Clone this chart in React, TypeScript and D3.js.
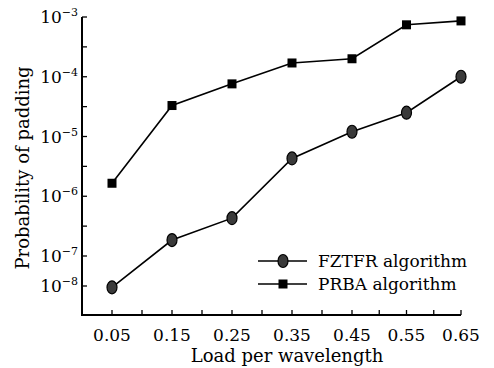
import React, { useEffect, useRef } from "react";
import * as d3 from "d3";

const loads = [0.05, 0.15, 0.25, 0.35, 0.45, 0.55, 0.65];
const fztfr = [9e-9, 1.85e-7, 4.3e-7, 4.3e-6, 1.2e-5, 2.5e-5, 1e-4];
const prba = [1.65e-6, 3.3e-5, 7.6e-5, 1.7e-4, 2e-4, 7.4e-4, 8.6e-4];
const xTicks = [0.05, 0.1, 0.15, 0.2, 0.25, 0.3, 0.35, 0.4, 0.45, 0.5, 0.55, 0.6, 0.65];
const xLabels = ["0.05", "0.15", "0.25", "0.35", "0.45", "0.55", "0.65"];
const yTicks = [-8, -7, -6.5, -6, -5.5, -5, -4.5, -4, -3.5, -3];
const yLabels = [-8, -7, -6, -5, -4, -3];

const FONT = "'DejaVu Serif', serif";

const App = () => {
  const svgRef = useRef<SVGSVGElement>(null);

  useEffect(() => {
    const svg = d3.select(svgRef.current);
    svg.selectAll("*").remove();

    // the original axes are not uniform at the ends, so piecewise scales
    const x = d3.scaleLinear().domain([0, 0.45, 0.65]).range([82, 352, 461]);
    const y = d3.scaleLinear().domain([-8, -7, -3]).range([286, 256, 17]);
    const yv = (v: number) => y(Math.log10(v));
    const x0 = 82, yBase = 315;

    // axes
    svg.append("path")
      .attr("d", `M${x0},${y(-3)}V${yBase}H${x(0.65)}`)
      .attr("fill", "none").attr("stroke", "#000").attr("stroke-width", 2);

    svg.selectAll(".xt").data(xTicks).enter().append("line")
      .attr("x1", d => x(d)).attr("x2", d => x(d))
      .attr("y1", yBase).attr("y2", yBase - 5)
      .attr("stroke", "#000").attr("stroke-width", 1.3);

    svg.selectAll(".yt").data(yTicks).enter().append("line")
      .attr("x1", x0).attr("x2", x0 + 5)
      .attr("y1", d => y(d)).attr("y2", d => y(d))
      .attr("stroke", "#000").attr("stroke-width", 1.3);

    svg.selectAll(".xl").data(xLabels).enter().append("text")
      .attr("x", d => x(+d)).attr("y", yBase + 26)
      .attr("text-anchor", "middle")
      .attr("font-family", FONT).attr("font-size", 17)
      .text(d => d);

    const yl = svg.selectAll(".yl").data(yLabels).enter().append("text")
      .attr("x", 78).attr("y", d => y(d) + 6)
      .attr("text-anchor", "end")
      .attr("font-family", FONT).attr("font-size", 17);
    yl.append("tspan").text("10");
    yl.append("tspan").attr("dy", -7).attr("font-size", 11).text(d => "\u2212" + Math.abs(d));

    svg.append("text")
      .attr("x", 287).attr("y", 362)
      .attr("text-anchor", "middle")
      .attr("font-family", FONT).attr("font-size", 18)
      .text("Load per wavelength");

    svg.append("text")
      .attr("transform", `translate(29,${(y(-3) + yBase) / 2 + 2}) rotate(-90)`)
      .attr("text-anchor", "middle")
      .attr("font-family", FONT).attr("font-size", 18)
      .text("Probability of padding");

    const line = d3.line<number>()
      .x((_, i) => x(loads[i]))
      .y(d => yv(d));

    const drawCircle = (g: any, cx: number, cy: number) =>
      g.append("ellipse").attr("cx", cx).attr("cy", cy).attr("rx", 5).attr("ry", 6.5)
        .attr("fill", "#3a3a3a").attr("stroke", "#000").attr("stroke-width", 1.2);
    const drawSquare = (g: any, cx: number, cy: number) =>
      g.append("rect").attr("x", cx - 4.5).attr("y", cy - 4.5).attr("width", 9).attr("height", 9)
        .attr("fill", "#000");

    svg.append("path").datum(prba).attr("d", line)
      .attr("fill", "none").attr("stroke", "#000").attr("stroke-width", 1.6);
    svg.append("path").datum(fztfr).attr("d", line)
      .attr("fill", "none").attr("stroke", "#000").attr("stroke-width", 1.6);

    prba.forEach((v, i) => drawSquare(svg, x(loads[i]), yv(v)));
    fztfr.forEach((v, i) => drawCircle(svg, x(loads[i]), yv(v)));

    // legend
    const legend = [
      { name: "FZTFR algorithm", mark: drawCircle },
      { name: "PRBA algorithm", mark: drawSquare },
    ];
    legend.forEach((d, i) => {
      const ly = 261 + i * 23;
      svg.append("line").attr("x1", 258).attr("x2", 307).attr("y1", ly).attr("y2", ly)
        .attr("stroke", "#000").attr("stroke-width", 1.6);
      d.mark(svg, 283, ly);
      svg.append("text").attr("x", 318).attr("y", ly + 6)
        .attr("font-family", FONT).attr("font-size", 17)
        .text(d.name);
    });
  }, []);

  return (
    <svg ref={svgRef} width={494} height={368}
      style={{ position: "absolute", left: 0, top: 0, background: "#fff" }} />
  );
};

export default App;
